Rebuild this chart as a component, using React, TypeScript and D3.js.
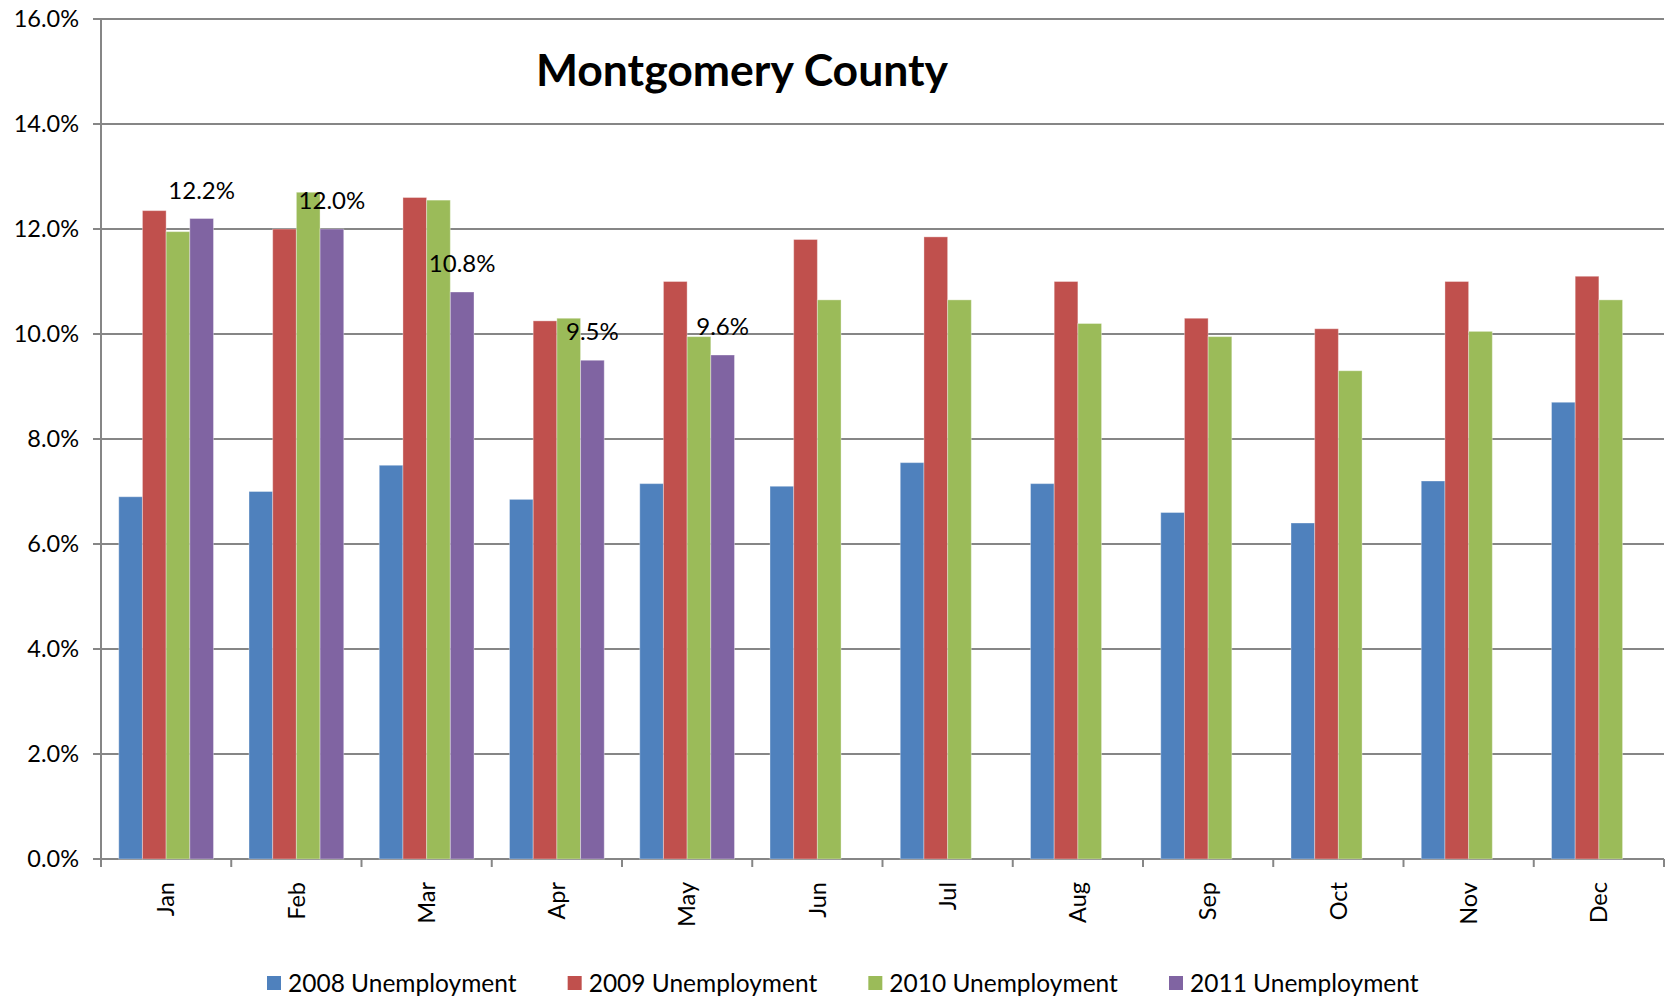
import React from "react";
import * as d3 from "d3";

// chart data (percent)
const months = ["Jan", "Feb", "Mar", "Apr", "May", "Jun", "Jul", "Aug", "Sep", "Oct", "Nov", "Dec"];
const seriesNames = ["2008 Unemployment", "2009 Unemployment", "2010 Unemployment", "2011 Unemployment"];
const u2008 = [6.9, 7.0, 7.5, 6.85, 7.15, 7.1, 7.55, 7.15, 6.6, 6.4, 7.2, 8.7];
const u2009 = [12.35, 12.0, 12.6, 10.25, 11.0, 11.8, 11.85, 11.0, 10.3, 10.1, 11.0, 11.1];
const u2010 = [11.95, 12.7, 12.55, 10.3, 9.95, 10.65, 10.65, 10.2, 9.95, 9.3, 10.05, 10.65];
const u2011 = [12.2, 12.0, 10.8, 9.5, 9.6];
const yTicks = [0, 2, 4, 6, 8, 10, 12, 14, 16];
const colors = ["#4F81BD", "#C0504D", "#9BBB59", "#8064A2"];

const W = 1669;
const H = 997;
const font = "Lato, 'Open Sans', sans-serif";

const App = () => {
  const allSeries = [u2008, u2009, u2010, u2011];

  const x0 = d3.scaleBand().domain(months).range([101, 1664]).padding(0);
  const x1 = d3
    .scaleBand()
    .domain(seriesNames)
    .range([0, x0.bandwidth()])
    .paddingInner(0)
    .paddingOuter(0.75);
  const y = d3.scaleLinear().domain([0, 16]).range([859, 19]);
  const fmt = (v) => v.toFixed(1) + "%";

  // legend slots
  const legendX = d3.scalePoint().domain(seriesNames).range([267, 1169]);

  return (
    <svg width={W} height={H} style={{ position: "absolute", left: 0, top: 0, background: "#fff" }}>
      {/* gridlines + y ticks */}
      {yTicks.map((t) => (
        <g key={t}>
          <line x1={93} x2={1664} y1={y(t)} y2={y(t)} stroke="#868686" strokeWidth={2} />
          <text
            x={79}
            y={y(t)}
            dy="0.35em"
            textAnchor="end"
            fontFamily={font}
            fontSize={23.5}
            fill="#000"
          >
            {t.toFixed(1) + "%"}
          </text>
        </g>
      ))}

      {/* y axis */}
      <line x1={101} x2={101} y1={y(16)} y2={y(0)} stroke="#868686" strokeWidth={2} />

      {/* x ticks */}
      {months.concat(["end"]).map((m, i) => {
        const xx = 101 + i * x0.step();
        return <line key={m} x1={xx} x2={xx} y1={y(0)} y2={y(0) + 8} stroke="#868686" strokeWidth={2} />;
      })}

      {/* bars */}
      {allSeries.map((vals, si) =>
        vals.map((v, mi) => (
          <rect
            key={si + "-" + mi}
            x={x0(months[mi]) + x1(seriesNames[si])}
            y={y(v)}
            width={x1.bandwidth()}
            height={y(0) - y(v)}
            fill={colors[si]}
            stroke="#ffffff"
            strokeOpacity={0.35}
            strokeWidth={1}
          />
        ))
      )}

      {/* 2011 data labels */}
      {u2011.map((v, mi) => (
        <text
          key={"lbl" + mi}
          x={x0(months[mi]) + x1(seriesNames[3]) + x1.bandwidth() / 2}
          y={y(v) - 20}
          textAnchor="middle"
          fontFamily={font}
          fontSize={24}
          fill="#000"
        >
          {fmt(v)}
        </text>
      ))}

      {/* month labels */}
      {months.map((m) => {
        const cx = x0(m) + x0.bandwidth() / 2;
        return (
          <text
            key={m}
            transform={`translate(${cx},882) rotate(-90)`}
            textAnchor="end"
            dy="0.35em"
            fontFamily={font}
            fontSize={23.5}
            fill="#000"
          >
            {m}
          </text>
        );
      })}

      {/* title */}
      <text x={742} y={86} textAnchor="middle" fontFamily={font} fontWeight="bold" fontSize={44.5} fill="#000">
        Montgomery County
      </text>

      {/* legend */}
      {seriesNames.map((s, i) => (
        <g key={s} transform={`translate(${legendX(s)},983)`}>
          <rect x={0} y={-7} width={14} height={14} fill={colors[i]} />
          <text x={21} dy="0.35em" fontFamily={font} fontSize={24.5} fill="#000">
            {s}
          </text>
        </g>
      ))}
    </svg>
  );
};

export default App;
